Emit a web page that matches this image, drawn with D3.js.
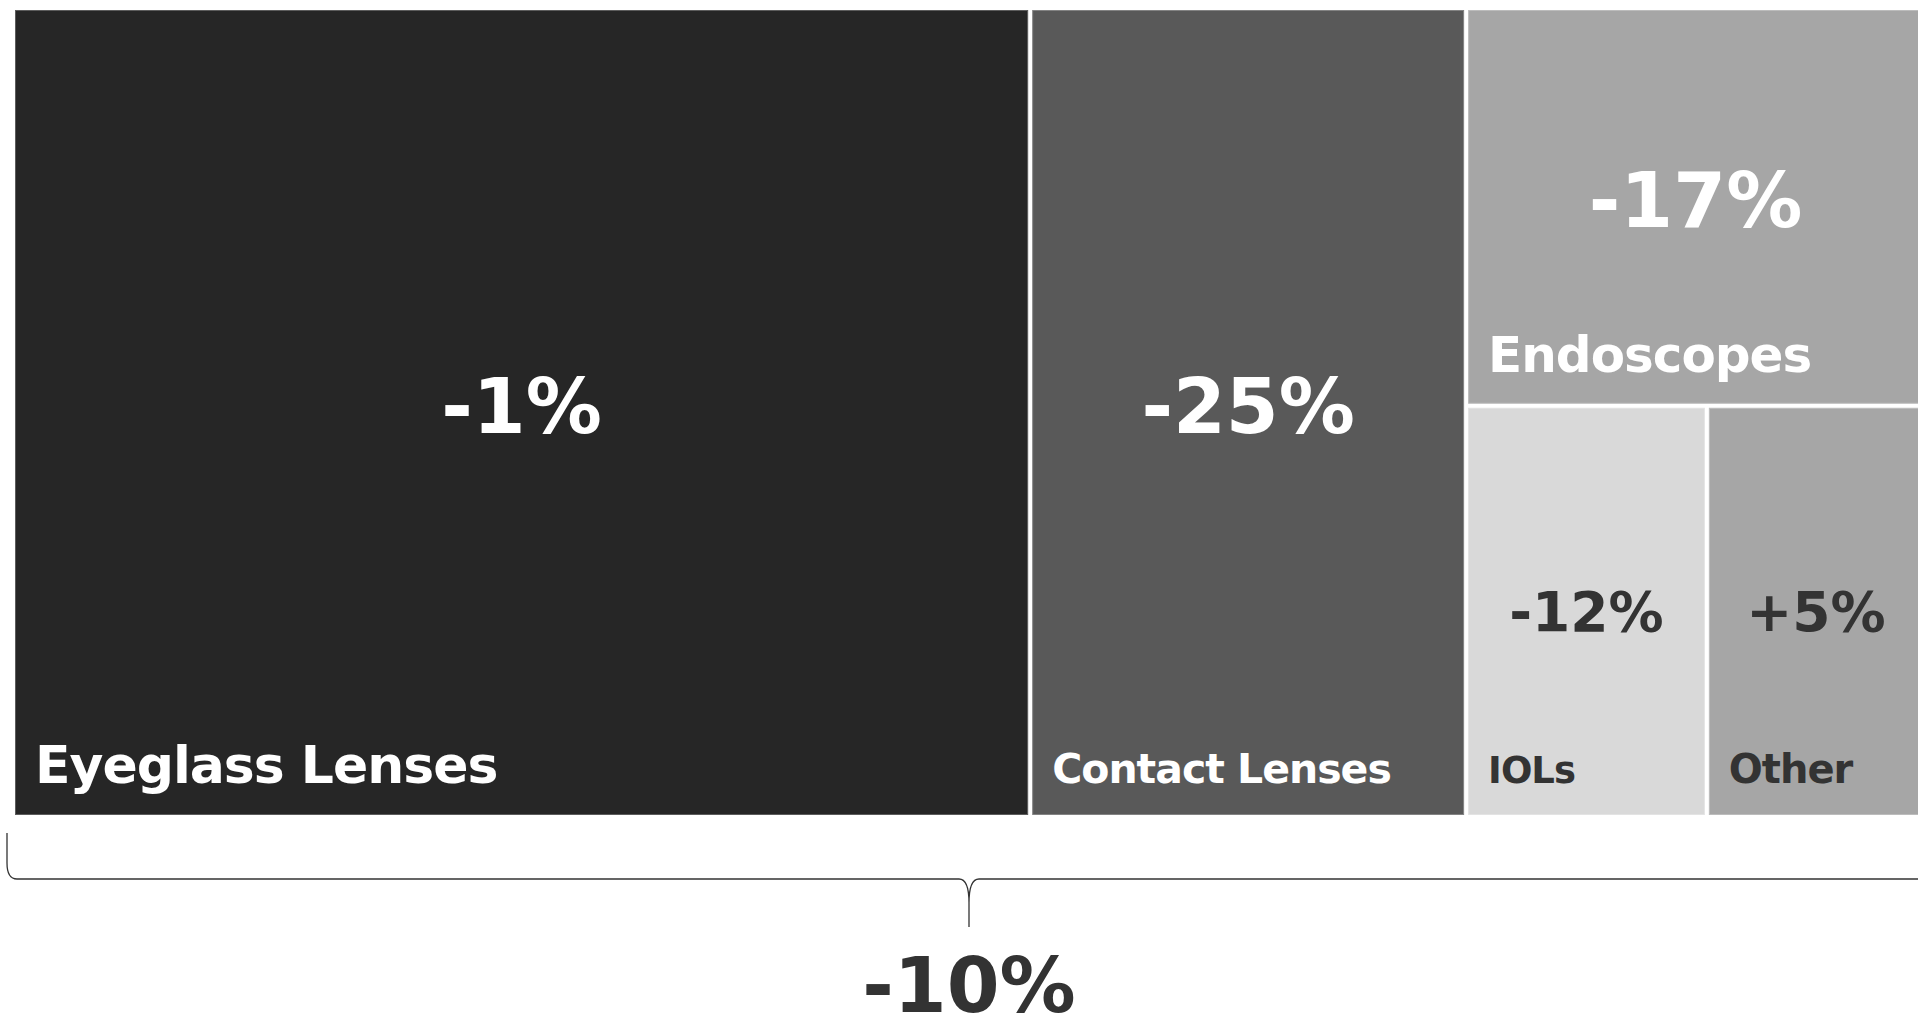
<!DOCTYPE html>
<html>
<head>
<meta charset="utf-8">
<script src="https://cdn.jsdelivr.net/npm/d3@7"></script>
<style>
  body { margin: 0; background: #fff; }
  text { font-family: "DejaVu Sans", Verdana, sans-serif; font-weight: bold; }
</style>
</head>
<body>
<div id="treemap"></div>
<script>

// segments, share of sales (area) and year on year change
var segments = ["Eyeglass Lenses", "Contact Lenses", "Endoscopes", "IOLs", "Other"]
var shares = [53.2, 22.8, 11.8, 6.4, 5.8]
var changes = ["-1%", "-25%", "-17%", "-12%", "+5%"]
var total_change = "-10%"

// grouping of the segments in the tree (right column, then bottom row)
var right_group = ["Endoscopes", "IOLs", "Other"]
var bottom_group = ["IOLs", "Other"]

// colours per segment
var fill_colour = d3.scaleOrdinal()
    .domain(segments)
    .range(["#262626", "#595959", "#a6a6a6", "#d9d9d9", "#a6a6a6"])
var text_colour = d3.scaleOrdinal()
    .domain(segments)
    .range(["#ffffff", "#ffffff", "#ffffff", "#333333", "#333333"])

// sizes of the labels
var value_size = d3.scaleOrdinal()
    .domain(segments)
    .range([76, 76, 76, 55, 55])
var name_size = d3.scaleOrdinal()
    .domain(segments)
    .range([52, 41, 50, 37, 40])

// parameters of the chart
var margin = {top: 10, left: 15},
    width = 1908,
    height = 805

// build the tree out of the arrays
function leaf(name) {
  var i = segments.indexOf(name)
  return {name: name, value: shares[i], change: changes[i]}
}
var tree = {name: "root", children: []}
segments.forEach(function(s) {
  if (right_group.indexOf(s) < 0) tree.children.push(leaf(s))
})
tree.children.push({name: "right", children: [
  leaf("Endoscopes"),
  {name: "bottom", children: bottom_group.map(leaf)}
]})

var root = d3.hierarchy(tree)
    .sum(function(d) { return d.value || 0 })

d3.treemap()
    .tile(d3.treemapSliceDice)
    .size([width, height])
    .paddingInner(4)
    .paddingOuter(0)(root)

var svg = d3.select("#treemap").append("svg")
    .attr("width", 1918)
    .attr("height", 1024)

var g = svg.append("g")
    .attr("transform", "translate(" + margin.left + "," + margin.top + ")")

var leaves = root.leaves()

// the rectangles
g.selectAll(".cell")
  .data(leaves)
  .enter().append("rect")
    .attr("class", "cell")
    .attr("x", function(d) { return d.x0 + 0.5 })
    .attr("y", function(d) { return d.y0 + 0.5 })
    .attr("width", function(d) { return d.x1 - d.x0 - 1 })
    .attr("height", function(d) { return d.y1 - d.y0 - 1 })
    .style("fill", function(d) { return fill_colour(d.data.name) })
    .style("stroke", function(d) {
      return d3.interpolateRgb(fill_colour(d.data.name), "#ffffff")(0.25)
    })
    .style("stroke-width", 1)

// change in the middle of each cell
g.selectAll(".value_text")
  .data(leaves)
  .enter().append("text")
    .attr("class", "value_text")
    .attr("x", function(d) { return (d.x0 + d.x1) / 2 })
    .attr("y", function(d) { return (d.y0 + d.y1) / 2 + 20 })
    .attr("text-anchor", "middle")
    .style("font-size", function(d) { return value_size(d.data.name) + "px" })
    .style("fill", function(d) { return text_colour(d.data.name) })
    .text(function(d) { return d.data.change })

// segment name in the lower left corner
g.selectAll(".name_text")
  .data(leaves)
  .enter().append("text")
    .attr("class", "name_text")
    .attr("x", function(d) { return d.x0 + 20 })
    .attr("y", function(d) { return d.y1 - 32 })
    .style("font-size", function(d) { return name_size(d.data.name) + "px" })
    .style("letter-spacing", "-1px")
    .style("fill", function(d) { return text_colour(d.data.name) })
    .text(function(d) { return d.data.name })

// brace below the whole chart
var left = root.x0 - 8,
    right = root.x1 + 8,
    mid = (left + right) / 2,
    top_y = root.y1 + 18,
    line_y = root.y1 + 64,
    tip_y = root.y1 + 112

var brace = d3.path()
brace.moveTo(left, top_y)
brace.lineTo(left, line_y - 16)
brace.quadraticCurveTo(left, line_y, left + 10, line_y)
brace.lineTo(mid - 10, line_y)
brace.quadraticCurveTo(mid, line_y, mid, line_y + 24)
brace.lineTo(mid, tip_y)
brace.moveTo(mid, line_y + 24)
brace.quadraticCurveTo(mid, line_y, mid + 10, line_y)
brace.lineTo(right - 10, line_y)
brace.quadraticCurveTo(right, line_y, right, line_y - 16)
brace.lineTo(right, top_y)

g.append("path")
    .attr("d", brace.toString())
    .style("fill", "none")
    .style("stroke", "#333333")
    .style("stroke-width", 1.3)

// total change below the brace
g.append("text")
    .attr("x", mid)
    .attr("y", 1012 - margin.top)
    .attr("text-anchor", "middle")
    .style("font-size", "76px")
    .style("fill", "#333333")
    .text(total_change)

</script>
</body>
</html>
